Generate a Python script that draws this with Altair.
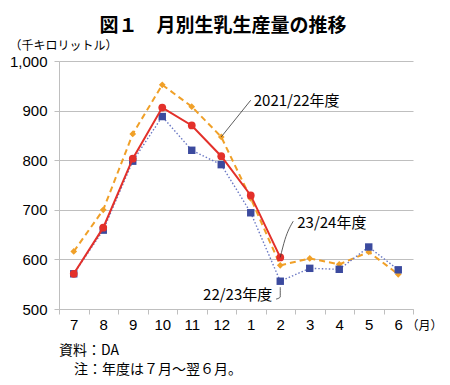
import altair as alt
import pandas as pd

months = ["7", "8", "9", "10", "11", "12", "1", "2", "3", "4", "5", "6"]
fy2021 = [616, 700, 853, 952, 908, 847, 723, 588, 602, 590, 615, 570]
fy2022 = [571, 659, 798, 888, 820, 791, 694, 556, 582, 580, 625, 579]
fy2023 = [571, 664, 803, 906, 870, 808, 729, 604]
y_ticks = [500, 600, 700, 800, 900, 1000]

JP = "Noto Sans CJK JP"
NUM = "Liberation Sans"

ORANGE = "#F0A028"
BLUE_LINE = "#6A78C4"
BLUE = "#3B4A9E"
RED = "#E3302A"
GRID = "#BFBFBF"


def frame(vals):
    return pd.DataFrame({
        "month": months[:len(vals)],
        "value": vals,
        "pos": [0.5] * len(vals),
        "order": list(range(len(vals))),
    })


x_enc = alt.X(
    "month:O",
    scale=alt.Scale(type="band", domain=months, paddingInner=0, paddingOuter=0),
    axis=alt.Axis(
        title="（月）", titleFont=JP, titleFontSize=12, titleFontWeight="normal",
        titleColor="#000", titleAngle=0, titleAlign="left", titleBaseline="middle",
        titleX=347, titleY=16,
        labelAngle=0, labelFont=NUM, labelFontSize=15, labelColor="#000",
        labelPadding=3, tickBand="extent", tickSize=5, tickColor=GRID,
        domainColor=GRID, grid=False,
    ),
)
xo_enc = alt.XOffset("pos:Q", scale=alt.Scale(domain=[0, 1]))
y_enc = alt.Y(
    "value:Q",
    scale=alt.Scale(domain=[500, 1000], nice=False, zero=False),
    axis=alt.Axis(
        values=y_ticks, format=",d", title="（千キロリットル）", titleFont=JP,
        titleFontSize=12, titleFontWeight="normal", titleColor="#000",
        titleAngle=0, titleAlign="left", titleBaseline="middle",
        titleX=-50, titleY=-16,
        labelFont=NUM, labelFontSize=15, labelColor="#000", labelPadding=7,
        tickSize=5, tickColor=GRID, domainColor=GRID, gridColor=GRID,
        gridWidth=1.2,
    ),
)


def series_layers(vals, line_kw, point_kw):
    base = alt.Chart(frame(vals)).encode(
        x=x_enc, xOffset=xo_enc, y=y_enc, order="order:Q"
    )
    return [base.mark_line(**line_kw), base.mark_point(filled=True, opacity=1, **point_kw)]


layers = []
layers += series_layers(
    fy2021,
    dict(color=ORANGE, strokeWidth=2, strokeDash=[6, 4]),
    dict(shape="diamond", size=45, color=ORANGE),
)
layers += series_layers(
    fy2022,
    dict(color=BLUE_LINE, strokeWidth=1.4, strokeDash=[1.5, 2]),
    dict(shape="square", size=55, color=BLUE),
)
layers += series_layers(
    fy2023,
    dict(color=RED, strokeWidth=2),
    dict(shape="circle", size=60, color=RED),
)

# leader lines for the series labels
leaders = pd.DataFrame({
    "lead": ["a", "a", "b", "b", "b", "c", "c", "c"],
    "month": ["12", "1", "2", "2", "2", "2", "2", "2"],
    "pos": [0.5, 0.5, 0.5, 0.66, 0.94, 0.5, 0.5, 0.36],
    "value": [847, 921, 604, 640, 677, 544, 524, 520],
    "order": [0, 1, 0, 1, 2, 0, 1, 2],
})
layers.append(
    alt.Chart(leaders).mark_line(color="#333333", strokeWidth=0.8, interpolate="monotone").encode(
        x=x_enc, xOffset=xo_enc, y=y_enc, detail="lead:N", order="order:Q"
    )
)

labels = pd.DataFrame({
    "month": ["1", "2", "2"],
    "pos": [0.5, 0.5, 0.5],
    "value": [919, 673, 528],
    "text": ["2021/22年度", "23/24年度", "22/23年度"],
})
label_base = alt.Chart(labels).encode(
    x=x_enc, xOffset=xo_enc, y=y_enc, text="text:N"
)
layers.append(
    label_base.transform_filter(alt.datum.text == "2021/22年度").mark_text(
        font=JP, fontSize=15, align="left", baseline="middle", dx=3, color="#000"
    )
)
layers.append(
    label_base.transform_filter(alt.datum.text == "23/24年度").mark_text(
        font=JP, fontSize=15, align="left", baseline="middle", dx=17, color="#000"
    )
)
layers.append(
    label_base.transform_filter(alt.datum.text == "22/23年度").mark_text(
        font=JP, fontSize=15, align="right", baseline="middle", dx=-8, color="#000"
    )
)

notes = ["資料：DA", "注：年度は７月～翌６月。"]
one = pd.DataFrame({"k": [0]})
layers.append(
    alt.Chart(one).mark_text(font=JP, fontSize=14, align="left", baseline="middle", color="#000")
    .encode(x=alt.value(0), y=alt.value(290), text=alt.value(notes[0]))
)
layers.append(
    alt.Chart(one).mark_text(font=JP, fontSize=14, align="left", baseline="middle", color="#000")
    .encode(x=alt.value(15), y=alt.value(309), text=alt.value(notes[1]))
)

chart = alt.layer(*layers).properties(
    width=354,
    height=248,
    autosize="none",
    padding={"left": 51, "top": 53, "right": 29, "bottom": 68},
    title=alt.Title(
        "図１　月別生乳生産量の推移", font=JP, fontSize=19, fontWeight="bold",
        anchor="middle", dx=-13, offset=3, color="#000",
    ),
).configure_view(stroke=None)

chart.save("out.html", embed_options={"renderer": "svg", "actions": False})
